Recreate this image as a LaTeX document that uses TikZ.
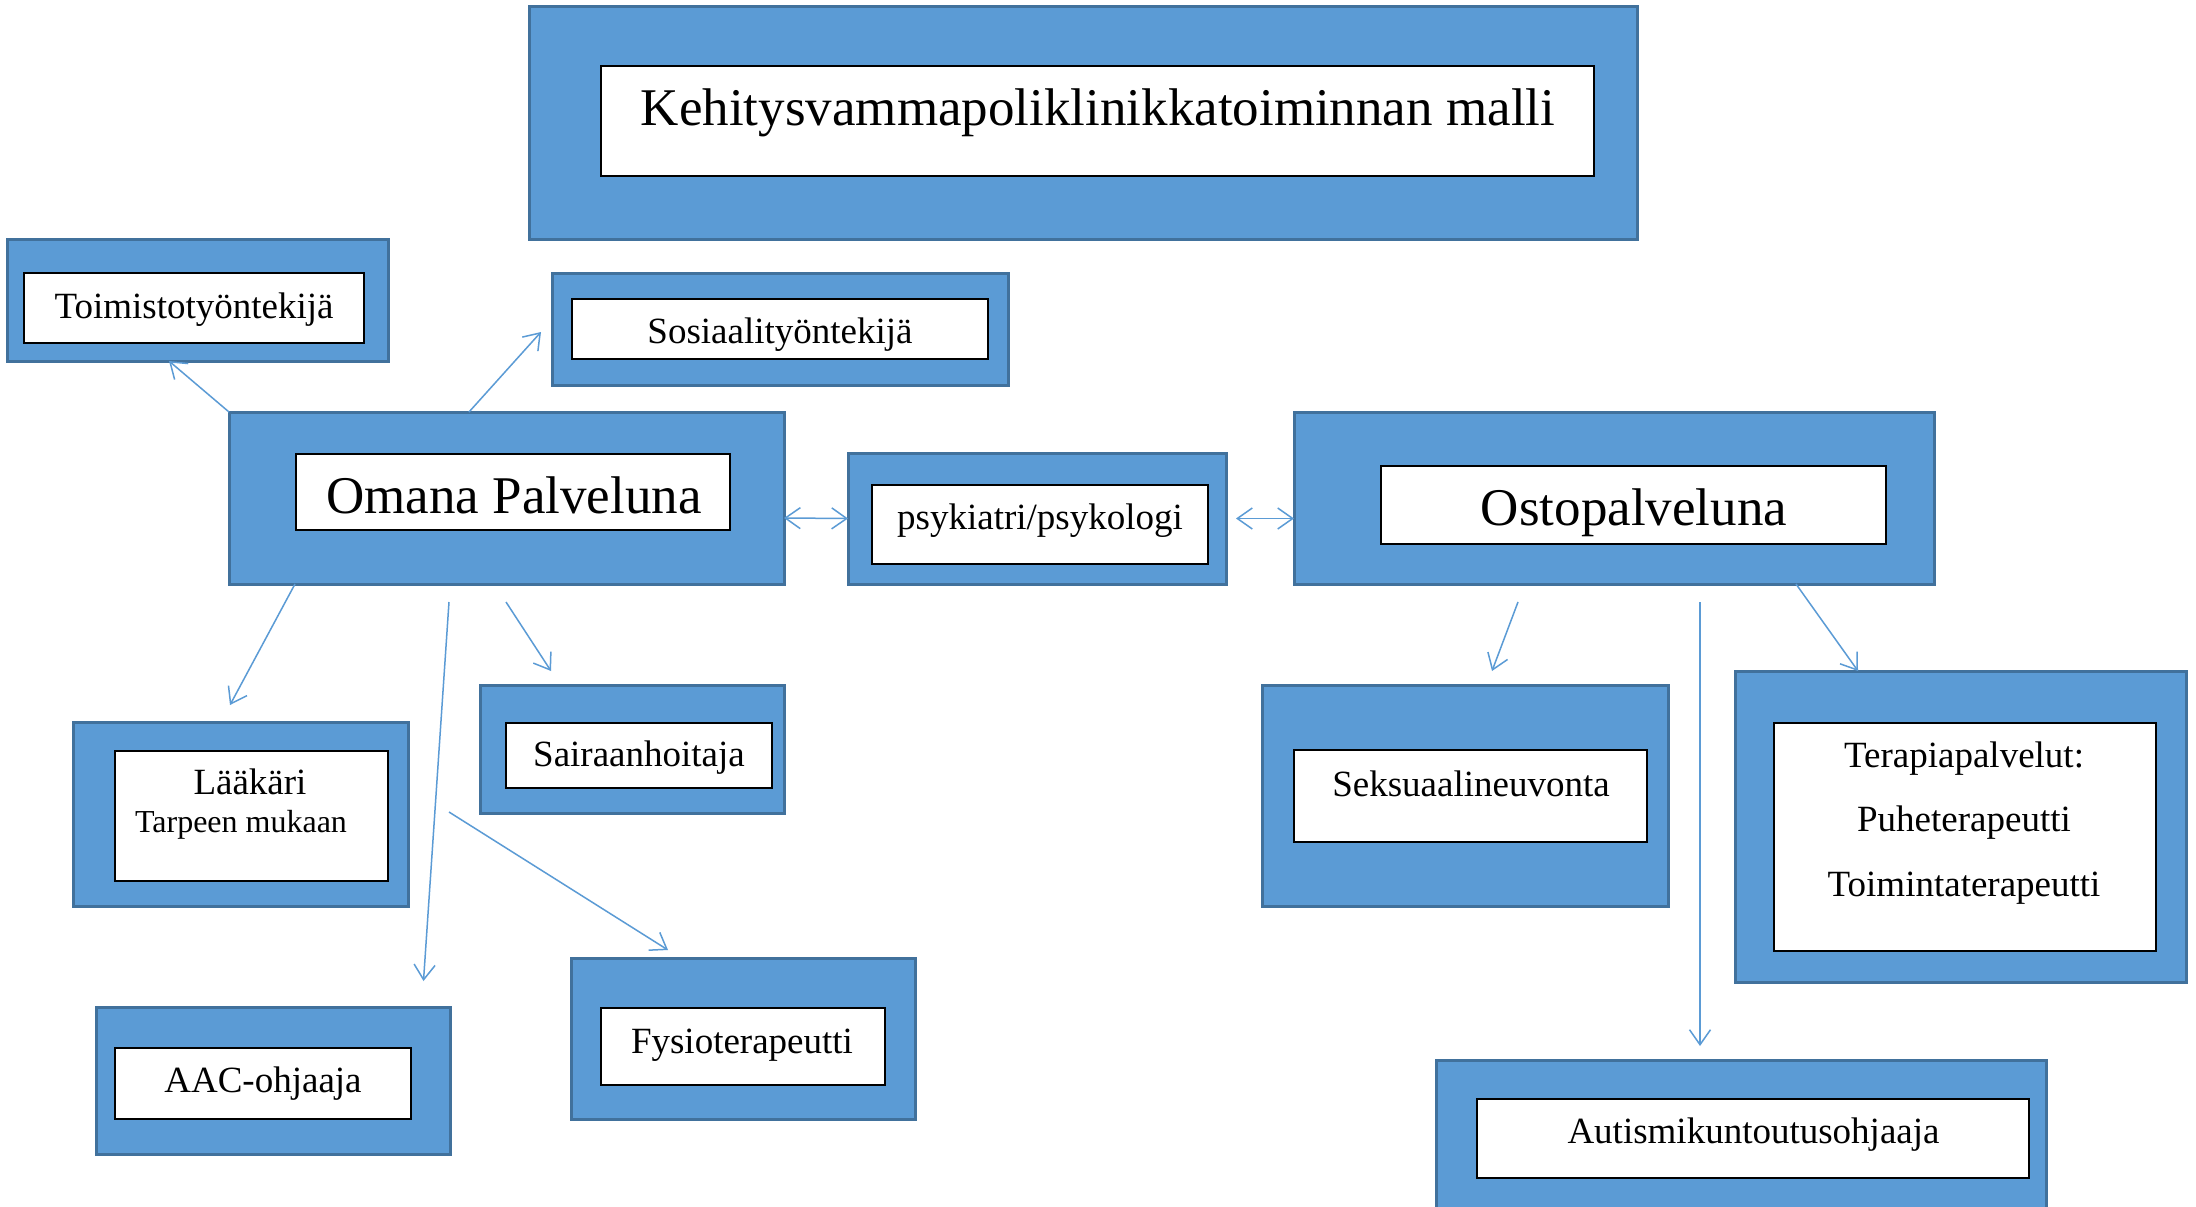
\documentclass[tikz,border=0pt]{standalone}
\usepackage{fontspec}
\setmainfont{Liberation Serif}
\usetikzlibrary{arrows.meta}
\definecolor{boxc}{HTML}{5B9BD5}
\definecolor{bordc}{HTML}{41719C}
\definecolor{arrc}{HTML}{5B9BD5}
\tikzset{
  outerbox/.style={draw=bordc, fill=boxc, line width=3pt, inner sep=0pt, outer sep=0pt, rectangle},
  innerbox/.style={draw=black, fill=white, line width=1.8pt, inner sep=0pt, outer sep=0pt, rectangle},
  lbl/.style={anchor=base, inner sep=0pt, font=\fontsize{37}{44}\selectfont},
  biglbl/.style={anchor=base, inner sep=0pt, font=\fontsize{53}{62}\selectfont},
  smalllbl/.style={anchor=base, inner sep=0pt, font=\fontsize{32}{38}\selectfont},
  conn/.style={draw=arrc, line width=1.5pt, -{Straight Barb[length=15pt,width=21pt,line width=1.5pt]}},
  biconn/.style={draw=arrc, line width=1.5pt, {Straight Barb[length=15pt,width=21pt,line width=1.5pt]}-{Straight Barb[length=15pt,width=21pt,line width=1.5pt]}}
}
\begin{document}
\begin{tikzpicture}[x=1pt,y=-1pt]
\useasboundingbox[fill=white] (0,0) rectangle (2196,1207);
\begin{scope}
\clip (0,0) rectangle (2196,1207);
% Title
\node[outerbox, minimum width=1108pt, minimum height=232pt] (title) at (1083,123) {};
\node[innerbox, minimum width=993pt, minimum height=110pt] (titlein) at (1097.5,121) {};
\node[biglbl] (titletxt) at (1098,125) {Kehitysvammapoliklinikkatoiminnan malli};
% Toimistotyontekija
\node[outerbox, minimum width=381pt, minimum height=122pt] (toim) at (197.5,300) {};
\node[innerbox, minimum width=340pt, minimum height=70pt] (toimin) at (194,308) {};
\node[lbl] (toimtxt) at (194,318) {Toimistotyöntekijä};
% Sosiaalityontekija
\node[outerbox, minimum width=456pt, minimum height=112pt] (sos) at (780,329) {};
\node[innerbox, minimum width=416pt, minimum height=60pt] (sosin) at (780,329) {};
\node[lbl] (sostxt) at (780,343) {Sosiaalityöntekijä};
% Omana Palveluna
\node[outerbox, minimum width=555pt, minimum height=172pt] (om) at (506.5,498) {};
\node[innerbox, minimum width=434pt, minimum height=76pt] (omin) at (513,492) {};
\node[biglbl] (omtxt) at (514,513) {Omana Palveluna};
% psykiatri/psykologi
\node[outerbox, minimum width=378pt, minimum height=131pt] (psy) at (1037,518.5) {};
\node[innerbox, minimum width=336pt, minimum height=79pt] (psyin) at (1040,524.5) {};
\node[lbl] (psytxt) at (1040,529) {psykiatri/psykologi};
% Ostopalveluna
\node[outerbox, minimum width=640pt, minimum height=172pt] (osto) at (1614,498) {};
\node[innerbox, minimum width=505pt, minimum height=78pt] (ostoin) at (1633.5,505) {};
\node[biglbl] (ostotxt) at (1634,525) {Ostopalveluna};
% Laakari
\node[outerbox, minimum width=335pt, minimum height=184pt] (laa) at (240.5,814) {};
\node[innerbox, minimum width=273pt, minimum height=130pt] (laain) at (251.5,816) {};
\node[lbl] (laatxt) at (250,794) {Lääkäri};
\node[smalllbl] (laatxt2) at (241,832) {Tarpeen mukaan};
% Sairaanhoitaja
\node[outerbox, minimum width=304pt, minimum height=128pt] (sai) at (632,749) {};
\node[innerbox, minimum width=266pt, minimum height=65pt] (saiin) at (639,755.5) {};
\node[lbl] (saitxt) at (639,766) {Sairaanhoitaja};
% AAC-ohjaaja
\node[outerbox, minimum width=354pt, minimum height=147pt] (aac) at (273,1080.5) {};
\node[innerbox, minimum width=296pt, minimum height=71pt] (aacin) at (263,1083.5) {};
\node[lbl] (aactxt) at (263,1092) {AAC-ohjaaja};
% Fysioterapeutti
\node[outerbox, minimum width=344pt, minimum height=161pt] (fys) at (743,1038.5) {};
\node[innerbox, minimum width=284pt, minimum height=77pt] (fysin) at (743,1046.5) {};
\node[lbl] (fystxt) at (742,1053) {Fysioterapeutti};
% Seksuaalineuvonta
\node[outerbox, minimum width=406pt, minimum height=221pt] (sek) at (1465,795.5) {};
\node[innerbox, minimum width=353pt, minimum height=92pt] (sekin) at (1470.5,796) {};
\node[lbl] (sektxt) at (1471,796) {Seksuaalineuvonta};
% Terapiapalvelut
\node[outerbox, minimum width=451pt, minimum height=311pt] (ter) at (1960.5,826.5) {};
\node[innerbox, minimum width=382pt, minimum height=228pt] (terin) at (1965,837) {};
\node[lbl] (tertxt1) at (1964,767) {Terapiapalvelut:};
\node[lbl] (tertxt2) at (1964,831) {Puheterapeutti};
\node[lbl] (tertxt3) at (1964,896) {Toimintaterapeutti};
% Autismikuntoutusohjaaja
\node[outerbox, minimum width=610pt, minimum height=160pt] (aut) at (1741,1140) {};
\node[innerbox, minimum width=552pt, minimum height=79pt] (autin) at (1753,1138.5) {};
\node[lbl] (auttxt) at (1753.5,1143) {Autismikuntoutusohjaaja};
\end{scope}
% free start points
\coordinate (s1) at (1518,602);
\coordinate (s2) at (1700,602);
\coordinate (s3) at (449,602);
\coordinate (s4) at (506,602);
\coordinate (s5) at (449,812);
% connectors
\draw[conn] (om.north west) -- ([xshift=-28.5pt]toim.south);
\draw[conn] ([xshift=-37.5pt]om.north) -- ([xshift=-11pt,yshift=-3pt]sos.west);
\draw[biconn] ([yshift=-20pt]om.east) -- (psy.west);
\draw[biconn] ([xshift=10pt]psy.east) -- (psy.east -| osto.west);
\draw[conn] (s1) -- ([xshift=27pt,yshift=14pt]sek.north);
\draw[conn] (s2) -- ([xshift=-41pt,yshift=14pt]aut.north);
\draw[conn] ([xshift=182pt]osto.south) -- ([xshift=-102.5pt]ter.north);
\draw[conn] ([xshift=-211.5pt]om.south) -- ([xshift=-10.5pt,yshift=17pt]laa.north);
\draw[conn] (s3) -- ([xshift=150.5pt,yshift=26pt]aac.north);
\draw[conn] (s4) -- ([xshift=-81pt,yshift=14pt]sai.north);
\draw[conn] (s5) -- ([xshift=-75pt,yshift=8pt]fys.north);
\end{tikzpicture}
\end{document}
